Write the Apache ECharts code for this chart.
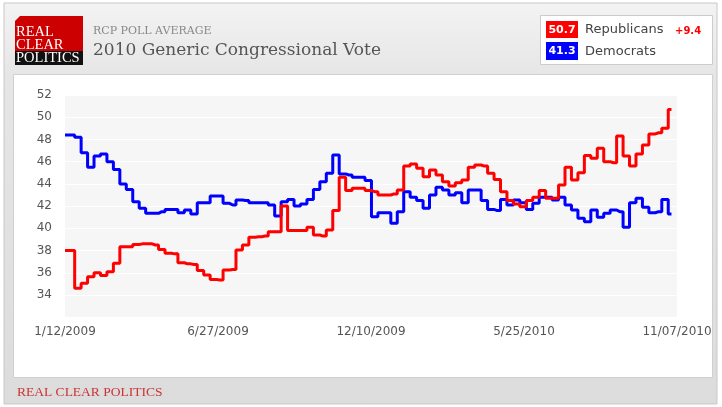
<!DOCTYPE html>
<html>
<head>
<meta charset="utf-8">
<script src="https://cdn.jsdelivr.net/npm/echarts@6/dist/echarts.min.js"></script>
<style>
html,body{margin:0;padding:0;background:#fff;}
#chart{width:722px;height:407px;}
</style>
</head>
<body>
<div id="chart"></div>
<script>
// ---- data (weekly poll averages starting 1/12/2009) ----
const xTickLabels = ['1/12/2009', '6/27/2009', '12/10/2009', '5/25/2010', '11/07/2010'];
const seriesNames = ['Republicans', 'Democrats'];
const republicans = [
  38.0, 38.0, 34.6, 35.05, 35.65, 36.0, 35.75, 36.1, 36.85, 38.35,
  38.35, 38.55, 38.6, 38.6, 38.5, 38.1, 37.75, 37.7, 36.9, 36.8,
  36.75, 36.2, 35.8, 35.4, 35.35, 36.25, 36.3, 38.05, 38.5, 39.2,
  39.25, 39.3, 39.7, 39.7, 42.0, 39.8, 39.8, 39.8, 40.1, 39.4,
  39.3, 39.85, 41.6, 44.6, 43.4, 43.6, 43.6, 43.4, 43.3, 43.0,
  43.0, 43.1, 43.45, 45.6, 45.8, 45.4, 44.65, 45.25, 44.8, 44.2,
  43.8, 44.1, 44.35, 45.5, 45.7, 45.6, 44.95, 44.4, 43.3, 42.5,
  42.2, 41.95, 42.5, 42.8, 43.4, 42.7, 42.7, 43.9, 45.5, 44.35,
  45.0, 46.55, 46.3, 47.2, 46.0, 45.9, 48.3, 46.5, 45.6, 46.7,
  47.5, 48.5, 48.6, 49.0, 50.7
];
const democrats = [
  48.4, 48.4, 48.2, 46.8, 45.5, 46.5, 46.7, 46.0, 45.3, 44.0,
  43.5, 42.4, 41.8, 41.35, 41.35, 41.5, 41.7, 41.7, 41.4, 41.65,
  41.3, 42.3, 42.3, 42.9, 42.9, 42.25, 42.1, 42.55, 42.5, 42.3,
  42.3, 42.3, 42.1, 41.1, 42.4, 42.6, 42.0, 42.2, 42.6, 43.5,
  44.2, 44.95, 46.6, 44.9, 44.8, 44.6, 44.6, 44.3, 41.05, 41.4,
  41.4, 40.45, 41.5, 43.3, 42.8, 42.5, 41.8, 43.0, 43.7, 43.45,
  43.0, 43.2, 42.3, 43.45, 43.45, 42.5, 41.7, 41.6, 42.6, 42.1,
  42.55, 42.3, 41.7, 42.25, 42.8, 42.8, 42.55, 42.8, 42.1, 41.65,
  40.9, 40.6, 41.65, 41.0, 41.35, 41.65, 41.5, 40.1, 42.3, 42.7,
  41.9, 41.4, 41.5, 42.6, 41.3
];
const totalDays = 664;        // 1/12/2009 .. 11/07/2010
const tickStepDays = 166;

// build [day, value] pairs (one sample per week)
const toPairs = arr => arr.map((v, i) => [i * 7, v]);
const lastRep = republicans[republicans.length - 1];
const lastDem = democrats[democrats.length - 1];
const spread = (lastRep - lastDem);

const chart = echarts.init(document.getElementById('chart'), null, {renderer: 'canvas'});

const option = {
  animation: false,
  backgroundColor: '#ffffff',
  grid: {
    left: 65, right: 45, top: 95, height: 222.2,
    show: true, backgroundColor: '#f6f6f6', borderWidth: 0
  },
  xAxis: {
    type: 'value', min: 0, max: totalDays, interval: tickStepDays,
    axisLine: {show: false}, axisTick: {show: false}, splitLine: {show: false},
    axisLabel: {
      color: '#555', fontSize: 12, fontFamily: 'DejaVu Sans', margin: 9,
      formatter: v => xTickLabels[Math.round(v / tickStepDays)] || ''
    }
  },
  yAxis: {
    type: 'value', min: 32, max: 52, interval: 2,
    axisLine: {show: false}, axisTick: {show: false},
    splitLine: {show: true, lineStyle: {color: '#ffffff', width: 1}},
    axisLabel: {
      color: '#555', fontSize: 12, fontFamily: 'DejaVu Sans', margin: 13,
      formatter: v => (v === 32 ? '' : String(v))
    }
  },
  series: [
    {
      name: seriesNames[1], type: 'line', data: toPairs(democrats),
      step: 'middle', showSymbol: false, z: 3,
      lineStyle: {color: '#0000ff', width: 3}, itemStyle: {color: '#0000ff'}
    },
    {
      name: seriesNames[0], type: 'line', data: toPairs(republicans),
      step: 'middle', showSymbol: false, z: 4,
      lineStyle: {color: '#ff0000', width: 3}, itemStyle: {color: '#ff0000'}
    }
  ],
  graphic: [
    // outer frame
    {type: 'rect', z: -20, shape: {x: 4, y: 3, width: 713, height: 401},
      style: {fill: new echarts.graphic.LinearGradient(0, 0, 0, 1, [
        {offset: 0, color: '#f3f3f3'}, {offset: 0.18, color: '#e6e6e6'}, {offset: 1, color: '#dcdcdc'}]),
        stroke: '#c8c8c8', lineWidth: 1}},
    // white panel
    {type: 'rect', z: -19, shape: {x: 13.5, y: 74.5, width: 699, height: 303},
      style: {fill: '#ffffff', stroke: '#d0d0d0', lineWidth: 1}},
    // logo
    {type: 'polygon', z: 5, shape: {points: [[20, 16], [83, 16], [83, 51], [15, 51], [15, 21]]},
      style: {fill: '#cc0000'}},
    {type: 'rect', z: 5, shape: {x: 15, y: 51, width: 68, height: 14}, style: {fill: '#111111'}},
    {type: 'text', z: 6, style: {text: 'REAL', x: 16, y: 32, fill: '#fff', font: '14.5px "Liberation Serif"', verticalAlign: 'middle'}},
    {type: 'text', z: 6, style: {text: 'CLEAR', x: 16, y: 45, fill: '#fff', font: '14.5px "Liberation Serif"', verticalAlign: 'middle'}},
    {type: 'text', z: 6, style: {text: 'POLITICS', x: 16, y: 58.5, fill: '#fff', font: '14.5px "Liberation Serif"', verticalAlign: 'middle'}},
    // header titles
    {type: 'text', z: 6, style: {text: 'RCP POLL AVERAGE', x: 93, y: 31, fill: '#888', font: '11px "DejaVu Serif"', verticalAlign: 'middle'}},
    {type: 'text', z: 6, style: {text: '2010 Generic Congressional Vote', x: 93, y: 51, fill: '#555', font: '17px "DejaVu Serif"', verticalAlign: 'middle'}},
    // legend box
    {type: 'rect', z: 5, shape: {x: 540.5, y: 15.5, width: 172, height: 49}, style: {fill: '#fff', stroke: '#cccccc', lineWidth: 1}},
    {type: 'rect', z: 6, shape: {x: 546, y: 21, width: 32, height: 17}, style: {fill: '#ff0000'}},
    {type: 'text', z: 7, style: {text: lastRep.toFixed(1), x: 562, y: 30, fill: '#fff', font: 'bold 11px "DejaVu Sans"', align: 'center', verticalAlign: 'middle'}},
    {type: 'text', z: 7, style: {text: seriesNames[0], x: 585, y: 30, fill: '#444', font: '13px "DejaVu Sans"', verticalAlign: 'middle'}},
    {type: 'text', z: 7, style: {text: '+' + spread.toFixed(1), x: 675, y: 31, fill: '#ff0000', font: 'bold 10px "DejaVu Sans"', verticalAlign: 'middle'}},
    {type: 'rect', z: 6, shape: {x: 546, y: 42, width: 32, height: 18}, style: {fill: '#0000ff'}},
    {type: 'text', z: 7, style: {text: lastDem.toFixed(1), x: 562, y: 51.5, fill: '#fff', font: 'bold 11px "DejaVu Sans"', align: 'center', verticalAlign: 'middle'}},
    {type: 'text', z: 7, style: {text: seriesNames[1], x: 585, y: 51.5, fill: '#444', font: '13px "DejaVu Sans"', verticalAlign: 'middle'}},
    // footer
    {type: 'text', z: 6, style: {text: 'REAL CLEAR POLITICS', x: 17, y: 392, fill: '#cc3333', font: '13.5px "Liberation Serif"', verticalAlign: 'middle'}}
  ]
};
chart.setOption(option);
</script>
</body>
</html>
